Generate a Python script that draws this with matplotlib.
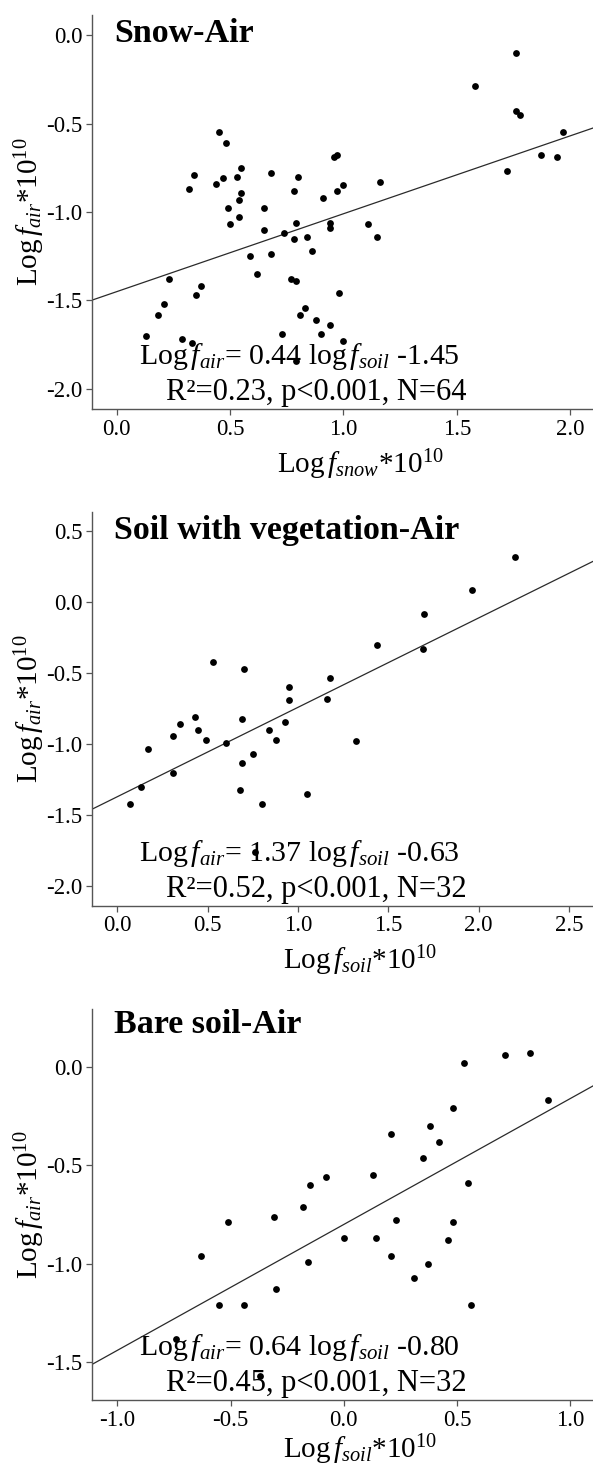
import numpy as np
import matplotlib
matplotlib.use("Agg")
import matplotlib.pyplot as plt

plt.rcParams['font.family'] = ['Liberation Serif', 'DejaVu Serif']
plt.rcParams['mathtext.fontset'] = 'custom'
plt.rcParams['mathtext.rm'] = 'Liberation Serif'
plt.rcParams['mathtext.it'] = 'Liberation Serif:italic'
plt.rcParams['axes.unicode_minus'] = False

# ---------------------------------------------------------------------------
# Data
# ---------------------------------------------------------------------------
snow_x = [1.76, 1.58, 1.76, 1.78, 1.97, 1.87, 1.94, 1.72,
          0.45, 0.48, 0.96, 0.97, 0.34, 0.32, 0.44, 0.47, 0.53, 0.55, 0.68, 0.80,
          0.55, 0.54, 0.78, 0.91, 0.97, 1.00, 1.16, 0.49, 0.65, 0.54, 0.50, 0.65,
          0.79, 0.94, 0.94, 1.11, 1.15, 0.74, 0.78, 0.84, 0.86, 0.59, 0.68,
          0.23, 0.37, 0.35, 0.21, 0.18, 0.62, 0.77, 0.79, 0.98, 0.83, 0.81, 0.88,
          0.94, 0.13, 0.29, 0.33, 0.73, 0.90, 1.00, 0.79]
snow_y = [-0.10, -0.29, -0.43, -0.45, -0.55, -0.68, -0.69, -0.77,
          -0.55, -0.61, -0.69, -0.68, -0.79, -0.87, -0.84, -0.81, -0.80, -0.75, -0.78, -0.80,
          -0.89, -0.93, -0.88, -0.92, -0.88, -0.85, -0.83, -0.98, -0.98, -1.03, -1.07, -1.10,
          -1.06, -1.06, -1.09, -1.07, -1.14, -1.12, -1.15, -1.14, -1.22, -1.25, -1.24,
          -1.38, -1.42, -1.47, -1.52, -1.58, -1.35, -1.38, -1.39, -1.46, -1.54, -1.58, -1.61,
          -1.64, -1.70, -1.72, -1.74, -1.69, -1.69, -1.73, -1.84]

veg_x = [2.20, 1.96, 1.70, 1.44, 1.69, 0.53, 0.70, 0.95, 1.18, 0.95, 1.16,
         0.43, 0.35, 0.69, 0.93, 0.45, 0.31, 0.84, 0.88, 0.49, 0.60, 1.32,
         0.17, 0.75, 0.69, 0.31, 0.13, 0.68, 1.05, 0.07, 0.80, 0.76]
veg_y = [0.32, 0.09, -0.08, -0.30, -0.33, -0.42, -0.47, -0.60, -0.53, -0.69, -0.68,
         -0.81, -0.86, -0.82, -0.84, -0.90, -0.94, -0.90, -0.97, -0.97, -0.99, -0.98,
         -1.03, -1.07, -1.13, -1.20, -1.30, -1.32, -1.35, -1.42, -1.42, -1.76]

bare_x = [0.53, 0.71, 0.82, 0.90, 0.48, 0.38, 0.21, 0.42, 0.35, -0.15, -0.08,
          0.13, 0.55, -0.18, -0.31, -0.51, 0.23, 0.48, 0.00, 0.14, 0.46, -0.63,
          -0.16, 0.21, 0.37, 0.31, -0.30, -0.55, -0.44, 0.56, -0.74, -0.37]
bare_y = [0.02, 0.06, 0.07, -0.17, -0.21, -0.30, -0.34, -0.38, -0.46, -0.60, -0.56,
          -0.55, -0.59, -0.71, -0.76, -0.79, -0.78, -0.79, -0.87, -0.87, -0.88, -0.96,
          -0.99, -0.96, -1.00, -1.07, -1.13, -1.21, -1.21, -1.21, -1.38, -1.57]

# fitted lines (slope, intercept) as drawn
fit_slope = [0.44, 0.63, 0.64]
fit_icpt = [-1.45, -1.37, -0.80]

titles = ['Snow-Air', 'Soil with vegetation-Air', 'Bare soil-Air']
xlabels = [r'Log$\,f_{snow}$*10$^{10}$', r'Log$\,f_{soil}$*10$^{10}$',
           r'Log$\,f_{soil}$*10$^{10}$']
ylabel = r'Log$\,f_{air}$*10$^{10}$'
eq_lines = [r'Log$\,f_{air}$= 0.44 log$\,f_{soil}$ -1.45',
            r'Log$\,f_{air}$= 1.37 log$\,f_{soil}$ -0.63',
            r'Log$\,f_{air}$= 0.64 log$\,f_{soil}$ -0.80']
stat_lines = ['R²=0.23, p<0.001, N=64',
              'R²=0.52, p<0.001, N=32',
              'R²=0.45, p<0.001, N=32']

xticks = [[0.0, 0.5, 1.0, 1.5, 2.0],
          [0.0, 0.5, 1.0, 1.5, 2.0, 2.5],
          [-1.0, -0.5, 0.0, 0.5, 1.0]]
yticks = [[-2.0, -1.5, -1.0, -0.5, 0.0],
          [-2.0, -1.5, -1.0, -0.5, 0.0, 0.5],
          [-1.5, -1.0, -0.5, 0.0]]
xlims = [(-0.109, 2.101), (-0.139, 2.632), (-1.112, 1.100)]
ylims = [(-2.113, 0.113), (-2.137, 0.638), (-1.694, 0.295)]

# ---------------------------------------------------------------------------
W, H = 593, 1469
fig = plt.figure(figsize=(W / 100, H / 100), dpi=100)

# axes boxes in pixels: (top, bottom)
boxes = [(15, 409), (511.7, 905.7), (1009, 1400.3)]
ax_left, ax_right = 92, 593
xlabel_gap = [64, 64, 58]


def fx(px):
    return px / W


def fy(py):
    return 1 - py / H


xs = [snow_x, veg_x, bare_x]
ys = [snow_y, veg_y, bare_y]

for i in range(3):
    top, bot = boxes[i]
    ax = fig.add_axes([fx(ax_left), fy(bot), (ax_right - ax_left) / W, (bot - top) / H])
    ax.scatter(xs[i], ys[i], s=24, color='black', linewidths=0, zorder=3)
    ax.axline((0, fit_icpt[i]), slope=fit_slope[i], color='#2a2a2a', lw=0.9, zorder=2)

    ax.set_xlim(*xlims[i])
    ax.set_ylim(*ylims[i])
    ax.set_xticks(xticks[i])
    ax.set_yticks(yticks[i])
    ax.xaxis.set_major_formatter(matplotlib.ticker.FormatStrFormatter('%.1f'))
    ax.yaxis.set_major_formatter(matplotlib.ticker.FormatStrFormatter('%.1f'))
    for s in ['top', 'right']:
        ax.spines[s].set_visible(False)
    for s in ['left', 'bottom']:
        ax.spines[s].set_color('#555555')
        ax.spines[s].set_linewidth(1.0)
    ax.tick_params(direction='out', length=4, width=0.9, color='#555555',
                   labelsize=16.5, pad=3)

    # panel title
    ax.text(fx(114), fy(top + 27.5 if i < 2 else top + 23.7), titles[i],
            transform=fig.transFigure, fontsize=24.5, fontweight='bold',
            ha='left', va='baseline')

    # equation + statistics
    ax.text(fx(139), fy(bot - 45), eq_lines[i], transform=fig.transFigure,
            fontsize=21.5, ha='left', va='baseline', zorder=1)
    ax.text(fx(166), fy(bot - 9), stat_lines[i], transform=fig.transFigure,
            fontsize=22, ha='left', va='baseline', zorder=1)

    # axis labels
    fig.text(fx(360), fy(bot + xlabel_gap[i]), xlabels[i], fontsize=21,
             ha='center', va='baseline')
    fig.text(fx(30), fy((top + bot) / 2), ylabel, fontsize=21,
             rotation=90, ha='center', va='center')

fig.savefig('out.png', dpi=100)
